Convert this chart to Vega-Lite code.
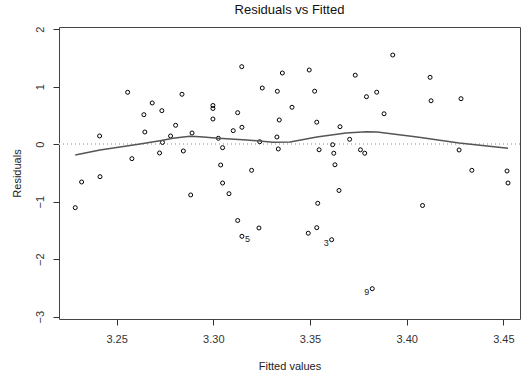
{
  "$schema": "https://vega.github.io/schema/vega-lite/v6.json",
  "width": 461,
  "height": 292,
  "autosize": {"type": "none"},
  "padding": {"left": 59, "top": 27, "right": 1, "bottom": 58},
  "background": "white",
  "config": {
    "font": "Liberation Sans",
    "view": {"stroke": "#444", "strokeWidth": 1},
    "axis": {
      "grid": false,
      "domain": false,
      "tickColor": "#333",
      "tickSize": 6,
      "labelColor": "#333",
      "labelFont": "Liberation Sans",
      "labelFontSize": 11,
      "titleFont": "Liberation Sans",
      "titleFontSize": 11,
      "titleFontWeight": "normal",
      "titleColor": "#222"
    }
  },
  "title": {
    "text": "Residuals vs Fitted",
    "font": "Liberation Sans",
    "fontSize": 13,
    "fontWeight": "normal",
    "color": "#111",
    "offset": 9
  },
  "datasets": {
    "pts": [
      {"fitted": 3.2286, "resid": -1.104, "label": ""},
      {"fitted": 3.2319, "resid": -0.657, "label": ""},
      {"fitted": 3.2412, "resid": 0.143, "label": ""},
      {"fitted": 3.2414, "resid": -0.565, "label": ""},
      {"fitted": 3.2557, "resid": 0.903, "label": ""},
      {"fitted": 3.2579, "resid": -0.252, "label": ""},
      {"fitted": 3.2641, "resid": 0.513, "label": ""},
      {"fitted": 3.2646, "resid": 0.212, "label": ""},
      {"fitted": 3.2684, "resid": 0.717, "label": ""},
      {"fitted": 3.2722, "resid": -0.153, "label": ""},
      {"fitted": 3.2734, "resid": 0.583, "label": ""},
      {"fitted": 3.2737, "resid": 0.03, "label": ""},
      {"fitted": 3.2779, "resid": 0.143, "label": ""},
      {"fitted": 3.2805, "resid": 0.329, "label": ""},
      {"fitted": 3.2838, "resid": 0.868, "label": ""},
      {"fitted": 3.2845, "resid": -0.118, "label": ""},
      {"fitted": 3.2883, "resid": -0.883, "label": ""},
      {"fitted": 3.289, "resid": 0.195, "label": ""},
      {"fitted": 3.2998, "resid": 0.673, "label": ""},
      {"fitted": 3.2998, "resid": 0.621, "label": ""},
      {"fitted": 3.2998, "resid": 0.438, "label": ""},
      {"fitted": 3.3026, "resid": 0.103, "label": ""},
      {"fitted": 3.3038, "resid": -0.362, "label": ""},
      {"fitted": 3.3048, "resid": -0.061, "label": ""},
      {"fitted": 3.3048, "resid": -0.675, "label": ""},
      {"fitted": 3.3081, "resid": -0.861, "label": ""},
      {"fitted": 3.3103, "resid": 0.235, "label": ""},
      {"fitted": 3.3126, "resid": 0.548, "label": ""},
      {"fitted": 3.3126, "resid": -1.327, "label": ""},
      {"fitted": 3.3147, "resid": 1.348, "label": ""},
      {"fitted": 3.3148, "resid": 0.294, "label": ""},
      {"fitted": 3.3148, "resid": -1.602, "label": "5"},
      {"fitted": 3.3198, "resid": -0.454, "label": ""},
      {"fitted": 3.3236, "resid": -1.457, "label": ""},
      {"fitted": 3.324, "resid": 0.043, "label": ""},
      {"fitted": 3.3253, "resid": 0.977, "label": ""},
      {"fitted": 3.3329, "resid": 0.125, "label": ""},
      {"fitted": 3.3331, "resid": 0.92, "label": ""},
      {"fitted": 3.3336, "resid": -0.083, "label": ""},
      {"fitted": 3.3341, "resid": 0.421, "label": ""},
      {"fitted": 3.3357, "resid": 1.238, "label": ""},
      {"fitted": 3.3407, "resid": 0.642, "label": ""},
      {"fitted": 3.3491, "resid": -1.548, "label": ""},
      {"fitted": 3.3496, "resid": 1.29, "label": ""},
      {"fitted": 3.3524, "resid": 0.922, "label": ""},
      {"fitted": 3.3535, "resid": 0.383, "label": ""},
      {"fitted": 3.354, "resid": -1.028, "label": ""},
      {"fitted": 3.3535, "resid": -1.452, "label": ""},
      {"fitted": 3.3547, "resid": -0.097, "label": ""},
      {"fitted": 3.3612, "resid": -1.661, "label": "3"},
      {"fitted": 3.3617, "resid": -0.009, "label": ""},
      {"fitted": 3.3623, "resid": -0.157, "label": ""},
      {"fitted": 3.3629, "resid": -0.358, "label": ""},
      {"fitted": 3.365, "resid": -0.805, "label": ""},
      {"fitted": 3.3655, "resid": 0.304, "label": ""},
      {"fitted": 3.3705, "resid": 0.085, "label": ""},
      {"fitted": 3.3734, "resid": 1.2, "label": ""},
      {"fitted": 3.3761, "resid": -0.097, "label": ""},
      {"fitted": 3.3783, "resid": -0.157, "label": ""},
      {"fitted": 3.3792, "resid": 0.826, "label": ""},
      {"fitted": 3.3822, "resid": -2.513, "label": "9"},
      {"fitted": 3.3845, "resid": 0.904, "label": ""},
      {"fitted": 3.3883, "resid": 0.529, "label": ""},
      {"fitted": 3.3928, "resid": 1.551, "label": ""},
      {"fitted": 3.4082, "resid": -1.066, "label": ""},
      {"fitted": 3.4121, "resid": 1.163, "label": ""},
      {"fitted": 3.4126, "resid": 0.755, "label": ""},
      {"fitted": 3.4271, "resid": -0.101, "label": ""},
      {"fitted": 3.4281, "resid": 0.791, "label": ""},
      {"fitted": 3.4337, "resid": -0.454, "label": ""},
      {"fitted": 3.4519, "resid": -0.466, "label": ""},
      {"fitted": 3.4524, "resid": -0.675, "label": ""}
    ],
    "smooth": [
      {"fitted": 3.2286, "resid": -0.188},
      {"fitted": 3.2414, "resid": -0.101},
      {"fitted": 3.2621, "resid": 0.003},
      {"fitted": 3.2724, "resid": 0.061},
      {"fitted": 3.2791, "resid": 0.103},
      {"fitted": 3.2879, "resid": 0.137},
      {"fitted": 3.2931, "resid": 0.13},
      {"fitted": 3.3026, "resid": 0.103},
      {"fitted": 3.3173, "resid": 0.073},
      {"fitted": 3.3309, "resid": 0.035},
      {"fitted": 3.3397, "resid": 0.038},
      {"fitted": 3.3535, "resid": 0.125},
      {"fitted": 3.3686, "resid": 0.195},
      {"fitted": 3.3792, "resid": 0.217},
      {"fitted": 3.3847, "resid": 0.212},
      {"fitted": 3.4054, "resid": 0.125},
      {"fitted": 3.4271, "resid": 0.021},
      {"fitted": 3.4524, "resid": -0.07}
    ]
  },
  "layer": [
    {
      "data": {"name": "pts"},
      "mark": {"type": "rule", "stroke": "#c4c4c4", "strokeDash": [1, 3], "strokeWidth": 0.8},
      "encoding": {"y": {"datum": 0, "type": "quantitative"}}
    },
    {
      "data": {"name": "pts"},
      "mark": {"type": "point", "shape": "circle", "filled": false, "size": 16, "stroke": "black", "strokeWidth": 1, "opacity": 1},
      "encoding": {
        "x": {
          "field": "fitted", "type": "quantitative",
          "scale": {"domain": [3.2202, 3.4586], "nice": false, "zero": false},
          "axis": {"values": [3.25, 3.3, 3.35, 3.4, 3.45], "format": ".2f", "title": "Fitted values", "labelPadding": 8, "titleY": 47, "titleBaseline": "middle"}
        },
        "y": {
          "field": "resid", "type": "quantitative",
          "scale": {"domain": [-3.04, 2.038], "nice": false, "zero": false},
          "axis": {"values": [-3, -2, -1, 0, 1, 2], "format": "d", "title": "Residuals", "labelAngle": -90, "labelAlign": "center", "labelBaseline": "bottom", "labelPadding": 8, "titleX": -42, "titleY": 146, "titleAngle": -90, "titleBaseline": "middle", "titleAlign": "center"}
        }
      }
    },
    {
      "data": {"name": "smooth"},
      "mark": {"type": "line", "color": "#555", "strokeWidth": 1.5},
      "encoding": {
        "x": {"field": "fitted", "type": "quantitative"},
        "y": {"field": "resid", "type": "quantitative"}
      }
    },
    {
      "data": {"name": "pts"},
      "transform": [{"filter": "datum.label == '5'"}],
      "mark": {"type": "text", "align": "left", "baseline": "middle", "dx": 3, "dy": 3, "fontSize": 9, "color": "#222"},
      "encoding": {
        "x": {"field": "fitted", "type": "quantitative"},
        "y": {"field": "resid", "type": "quantitative"},
        "text": {"field": "label"}
      }
    },
    {
      "data": {"name": "pts"},
      "transform": [{"filter": "datum.label == '3' || datum.label == '9'"}],
      "mark": {"type": "text", "align": "right", "baseline": "middle", "dx": -3, "dy": 3, "fontSize": 9, "color": "#222"},
      "encoding": {
        "x": {"field": "fitted", "type": "quantitative"},
        "y": {"field": "resid", "type": "quantitative"},
        "text": {"field": "label"}
      }
    }
  ]
}
